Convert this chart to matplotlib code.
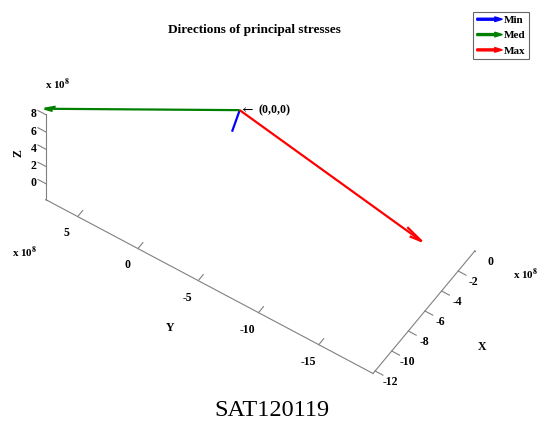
import numpy as np
import matplotlib
matplotlib.use("Agg")
import matplotlib.pyplot as plt
import matplotlib.patches as mpatches
from matplotlib.legend_handler import HandlerPatch

# principal stress directions, components in units of 1e8
names = ["Min", "Med", "Max"]
colors = ["#0000ff", "#008000", "#ff0000"]
dir_x = [-1.0, -12.3, -6.4]
dir_y = [-0.05, 7.7, -19.5]
dir_z = [-1.3, 8.7, 6.7]
head_ratio = [0.0, 0.05, 0.075]

x_lim = (-12.25, 0.0)
y_lim = (-19.5, 7.65)
z_lim = (-1.85, 8.1)
x_ticks = [0, -2, -4, -6, -8, -10, -12]
y_ticks = [5, 0, -5, -10, -15]
z_ticks = [0, 2, 4, 6, 8]

W, H = 537, 421
plt.rcParams["font.family"] = ["Liberation Serif", "DejaVu Serif"]
plt.rcParams["font.weight"] = "bold"
plt.rcParams["mathtext.fontset"] = "stix"


def fpos(px, py):
    # image pixel (top-left origin) -> figure fraction
    return px / W, 1 - py / H


fig = plt.figure(figsize=(W / 100, H / 100), dpi=100)
ax = fig.add_axes([0, 0, 1, 1], projection="3d", proj_type="ortho")
ax.set_xlim(*x_lim)
ax.set_ylim(*y_lim)
ax.set_zlim(*z_lim)
ax.view_init(elev=53.1, azim=-146.4)
ax.set_box_aspect((184.3, 393.8, 143.3))
ax.set_axis_off()

x0, x1 = x_lim
y0, y1 = y_lim
z0, z1 = z_lim
axis_kw = dict(color="#808080", lw=0.8)

# matlab style axis lines (box off)
ax.plot([x0, x0], [y1, y1], [z0, z1], **axis_kw)
ax.plot([x0, x0], [y1, y0], [z0, z0], **axis_kw)
ax.plot([x0, x1], [y0, y0], [z0, z0], **axis_kw)
for z in z_ticks:
    ax.plot([x0, x0], [y1, y1 + 0.65], [z, z], **axis_kw)
for y in y_ticks:
    ax.plot([x0, x0 + 0.6], [y, y], [z0, z0], **axis_kw)
for x in x_ticks:
    ax.plot([x, x], [y0, y0 - 0.65], [z0, z0], **axis_kw)

for i in range(len(names)):
    ax.quiver(0, 0, 0, dir_x[i], dir_y[i], dir_z[i], color=colors[i],
              lw=1.6, arrow_length_ratio=head_ratio[i])

# fit axes position so the box lands where the original had it
fig.canvas.draw()


def project(p):
    v = ax.M @ np.array([p[0], p[1], p[2], 1.0])
    return ax.transData.transform((v[0] / v[3], v[1] / v[3]))


refs = [((x0, y1, z0), (45, 199)), ((x0, y0, z0), (373, 373)),
        ((x1, y0, z0), (475, 250)), ((x0, y1, z1), (45, 113)),
        ((0, 0, 0), (241, 113))]
bb = ax.get_position()
S0 = bb.width * W
c0 = np.array([(bb.x0 + bb.x1) / 2 * W, (bb.y0 + bb.y1) / 2 * H])
rows, rhs = [], []
for p, (tx, ty) in refs:
    u = (project(p) - c0) / S0
    rows += [[1, 0, u[0]], [0, 1, u[1]]]
    rhs += [tx, H - ty]
cx, cy, S = np.linalg.lstsq(np.array(rows), np.array(rhs), rcond=None)[0]
ax.set_position([(cx - S / 2) / W, (cy - S / 2) / H, S / W, S / H])
fig.canvas.draw()


def label_at(p, s, **kw):
    px, py = project(p)
    return fig.text(px / W, py / H, s, **kw)


tick_kw = dict(ha="center", va="center", fontsize=8.5)
for z in z_ticks:
    label_at((x0, y1 + 1.0, z - 0.7), str(z), **tick_kw)
for y in y_ticks:
    label_at((x0 - 1.3, y, z0 - 0.45), str(y), **tick_kw)
for x in x_ticks:
    label_at((x, y0 - 1.3, z0 - 0.35), str(x), **tick_kw)

label_at((0, 0, 0), r"$\leftarrow$ (0,0,0)", ha="left", va="center", fontsize=8.5)

# axis labels and multipliers
fig.text(*fpos(19, 153), "Z", rotation=90, ha="center", va="center", fontsize=8.5)
fig.text(*fpos(170, 328), "Y", ha="center", va="center", fontsize=8.5)
fig.text(*fpos(482, 347), "X", ha="center", va="center", fontsize=8.5)
fig.text(*fpos(45, 84), r"x 10$^{8}$", ha="left", va="center", fontsize=8)
fig.text(*fpos(12, 252), r"x 10$^{8}$", ha="left", va="center", fontsize=8)
fig.text(*fpos(513, 274), r"x 10$^{8}$", ha="left", va="center", fontsize=8)

fig.text(*fpos(254.5, 30), "Directions of principal stresses",
         ha="center", va="center", fontsize=9.5)
fig.text(*fpos(272, 411), "SAT120119", ha="center", va="center",
         fontsize=17.5, fontweight="normal")


def make_arrow(legend, orig_handle, xdescent, ydescent, width, height, fontsize):
    return mpatches.FancyArrow(-xdescent, height / 2 - ydescent, width, 0,
                               width=1.4, length_includes_head=True,
                               head_width=height * 0.6, head_length=width * 0.3)


handles = [mpatches.Patch(color=c, label=n) for n, c in zip(names, colors)]
leg = fig.legend(handles=handles,
                 handler_map={mpatches.Patch: HandlerPatch(patch_func=make_arrow)},
                 loc="upper right", bbox_to_anchor=fpos(529, 12),
                 borderaxespad=0, fancybox=False, edgecolor="#666666",
                 framealpha=1, prop={"weight": "bold", "size": 8},
                 handlelength=2.3, handletextpad=0.15, labelspacing=0.5,
                 borderpad=0.3)
leg.get_frame().set_linewidth(0.8)

fig.savefig("out.png", dpi=100)
